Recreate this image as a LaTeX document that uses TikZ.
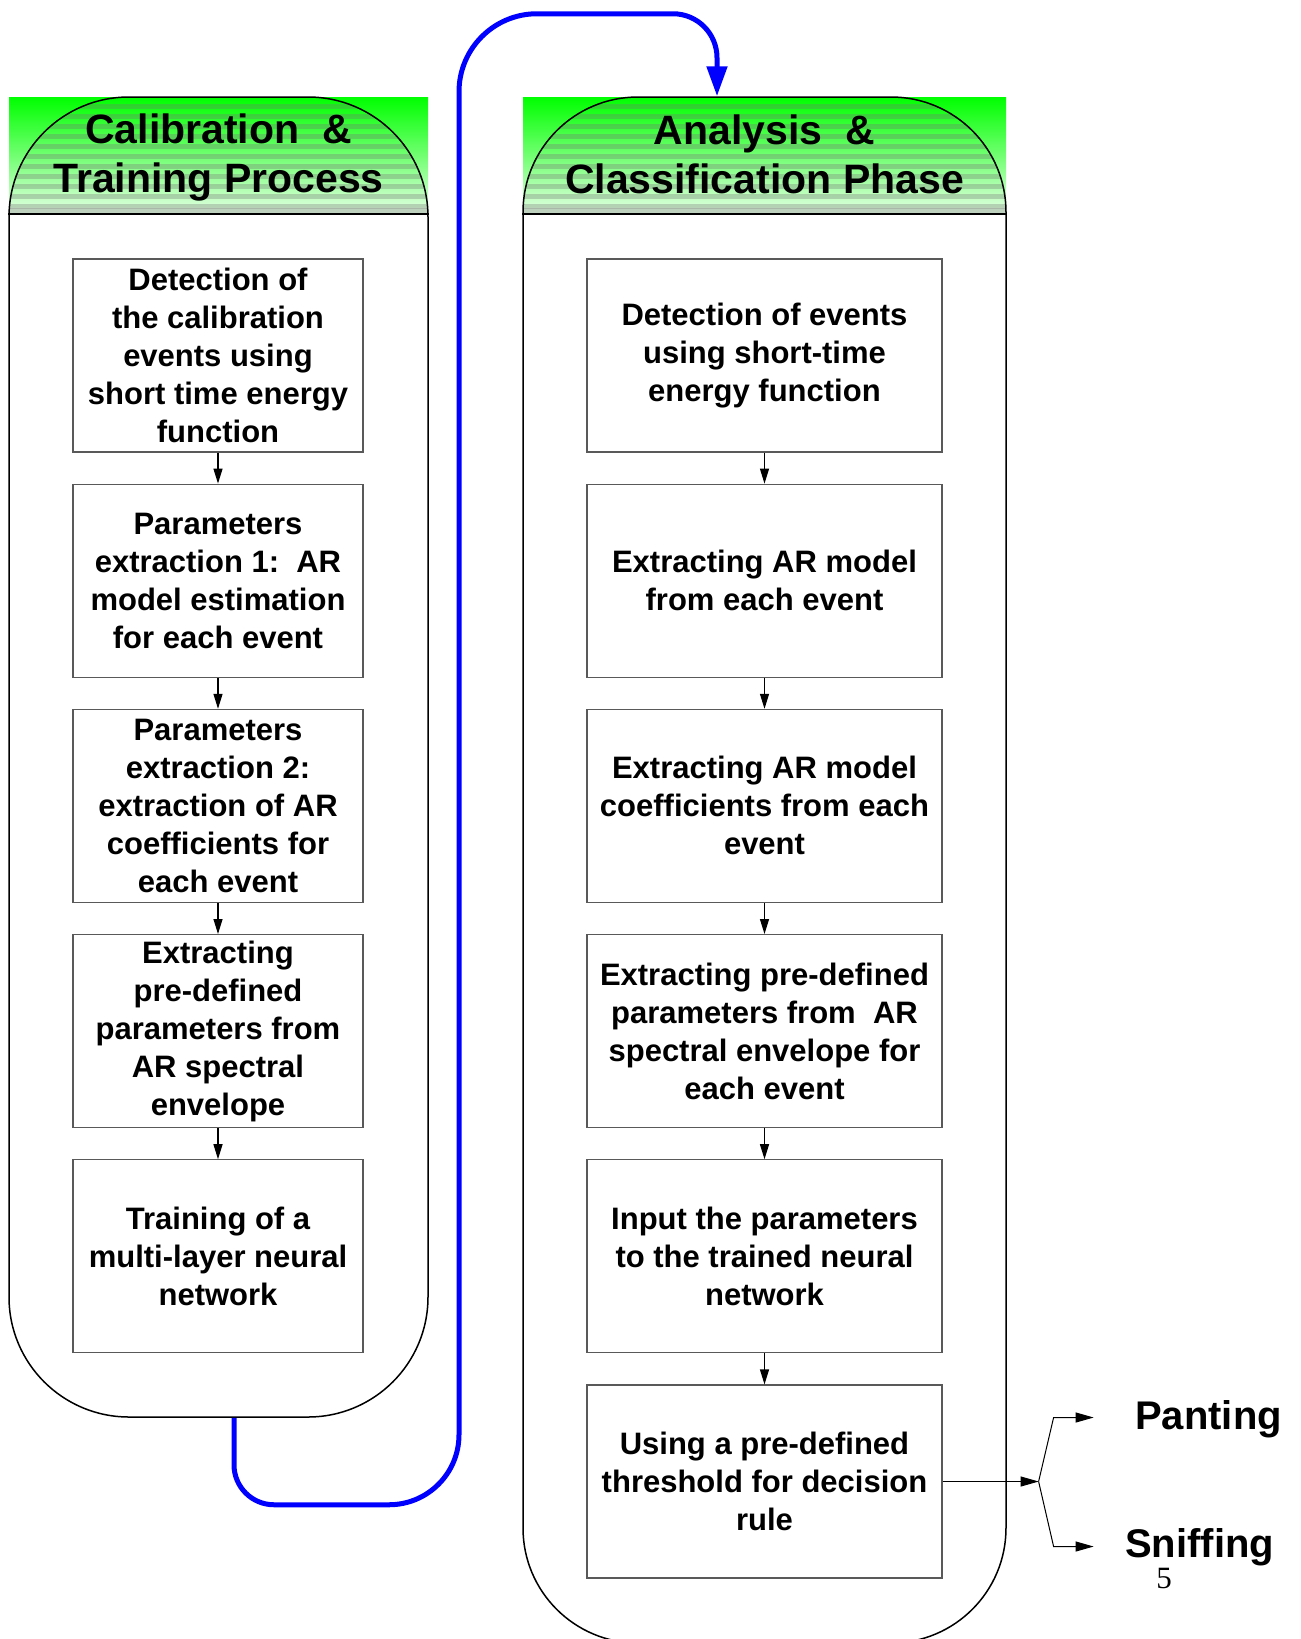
\documentclass[tikz,border=0pt]{standalone}
\usepackage{fontspec}
\setmainfont{Liberation Sans}
\newfontfamily\pagenumfont{Liberation Serif}
\usetikzlibrary{arrows.meta}

\definecolor{hdgreen}{RGB}{0,255,0}
\definecolor{hdpale}{RGB}{228,255,228}
\definecolor{linkblue}{RGB}{0,0,255}

\begin{document}
\begin{tikzpicture}[x=1pt,y=1pt,
  container/.style={draw=black, line width=1.5pt, inner sep=0pt},
  titletext/.style={align=center, inner sep=0pt, font=\fontsize{41}{49}\selectfont\bfseries},
  stepbox/.style={draw=black!65, line width=1.2pt, inner sep=0pt, minimum height=193pt,
    align=center, font=\fontsize{31}{38}\selectfont\bfseries},
  leftbox/.style={stepbox, minimum width=290pt},
  rightbox/.style={stepbox, minimum width=355pt},
  flow/.style={line width=1.2pt, -{Triangle[length=15pt,width=9pt]}},
  decide/.style={line width=1pt, -{Triangle[length=18pt,width=10pt]}},
  linkflow/.style={draw=linkblue, line width=5pt, -{Triangle[length=30pt,width=20pt]}},
  outcome/.style={inner sep=0pt, font=\fontsize{40}{40}\selectfont\bfseries}]

% page
\fill[white] (0,0) rectangle (1301,-1639);
\useasboundingbox (0,0) rectangle (1301,-1639);

% header bands of the two phases
\shade[top color=hdgreen, bottom color=hdpale] (9,-97) rectangle (428,-214);
\shade[top color=hdgreen, bottom color=hdpale] (523,-97) rectangle (1006,-214);

\begin{scope}
  \clip[rounded corners=120pt] (9,-97) rectangle (428,-1417);
  \shade[top color=hdgreen, bottom color=hdpale] (9,-97) rectangle (428,-214);
  \foreach \k in {0,...,10}
    \fill[black!55, opacity=0.32] (9,{-104-10*\k}) rectangle (428,{-109-10*\k});
  \fill[black!40, opacity=0.45] (9,-208) rectangle (428,-214);
\end{scope}
\begin{scope}
  \clip[rounded corners=115pt] (523,-97) rectangle (1006,-1643);
  \shade[top color=hdgreen, bottom color=hdpale] (523,-97) rectangle (1006,-214);
  \foreach \k in {0,...,10}
    \fill[black!55, opacity=0.32] (523,{-104-10*\k}) rectangle (1006,{-109-10*\k});
  \fill[black!40, opacity=0.45] (523,-208) rectangle (1006,-214);
\end{scope}

% phase containers
\node[container, rounded corners=120pt, minimum width=419pt, minimum height=1320pt]
  (calib) at (218.5,-757) {};
\node[container, rounded corners=115pt, minimum width=483pt, minimum height=1546pt]
  (anal) at (764.5,-870) {};

\draw[line width=2pt] (calib.west |- 0,-214) -- (calib.east |- 0,-214);
\draw[line width=2pt] (anal.west |- 0,-214) -- (anal.east |- 0,-214);

\node[titletext] (calibtitle) at (218.5,-157) {Calibration~~\&\\Training Process};
\node[titletext] (analtitle) at (764.5,-154) {Analysis~~\&\\Classification Phase};

% calibration and training steps
\node[leftbox] (l1) at (218,-355.5) {Detection of\\the calibration\\events using\\short time energy\\function};
\node[leftbox] (l2) at (218,-580.7) {Parameters\\extraction 1:~~AR\\model estimation\\for each event};
\node[leftbox] (l3) at (218,-805.9) {Parameters\\extraction 2:\\extraction of AR\\coefficients for\\each event};
\node[leftbox] (l4) at (218,-1031.1) {Extracting\\pre-defined\\parameters from\\AR spectral\\envelope};
\node[leftbox] (l5) at (218,-1256.3) {Training of a\\multi-layer neural\\network};

% analysis and classification steps
\node[rightbox] (r1) at (764.5,-355.5) {Detection of events\\using short-time\\energy function};
\node[rightbox] (r2) at (764.5,-580.7) {Extracting AR model\\from each event};
\node[rightbox] (r3) at (764.5,-805.9) {Extracting AR model\\coefficients from each\\event};
\node[rightbox] (r4) at (764.5,-1031.1) {Extracting pre-defined\\parameters from~~AR\\spectral envelope for\\each event};
\node[rightbox] (r5) at (764.5,-1256.3) {Input the parameters\\to the trained neural\\network};
\node[rightbox] (r6) at (764.5,-1481.5) {Using a pre-defined\\threshold for decision\\rule};

\foreach \a/\b in {l1/l2,l2/l3,l3/l4,l4/l5,r1/r2,r2/r3,r3/r4,r4/r5,r5/r6}
  \draw[flow] (\a) -- (\b);

% link from training to analysis
\draw[linkflow] ([xshift=15.5pt]calib.south) -- ++(0,-47)
  arc[start angle=180,end angle=270,radius=40] -- ++(115,0)
  arc[start angle=270,end angle=360,radius=70] -- ++(0,1343)
  arc[start angle=180,end angle=90,radius=78] -- ++(136,0)
  arc[start angle=90,end angle=0,radius=44] -- ([xshift=-47.5pt]anal.north);

% decision outcomes
\coordinate (fork) at ([xshift=96pt]r6.east);
\coordinate (pantbend) at ([xshift=15pt,yshift=64pt]fork);
\coordinate (pantend) at ([xshift=55pt,yshift=64pt]fork);
\coordinate (sniffbend) at ([xshift=15pt,yshift=-65pt]fork);
\coordinate (sniffend) at ([xshift=55pt,yshift=-65pt]fork);
\draw[decide] (r6.east) -- (fork);
\draw[decide] (fork) -- (pantbend) -- (pantend);
\draw[decide] (fork) -- (sniffbend) -- (sniffend);

\node[outcome, anchor=base west] (panting) at (1135,-1429) {Panting};
\node[outcome, anchor=base west] (sniffing) at (1125,-1557) {Sniffing};
\node[anchor=base, inner sep=0pt, font=\pagenumfont\fontsize{31}{31}\selectfont] (pagenum) at (1164,-1588) {5};

\end{tikzpicture}
\end{document}
